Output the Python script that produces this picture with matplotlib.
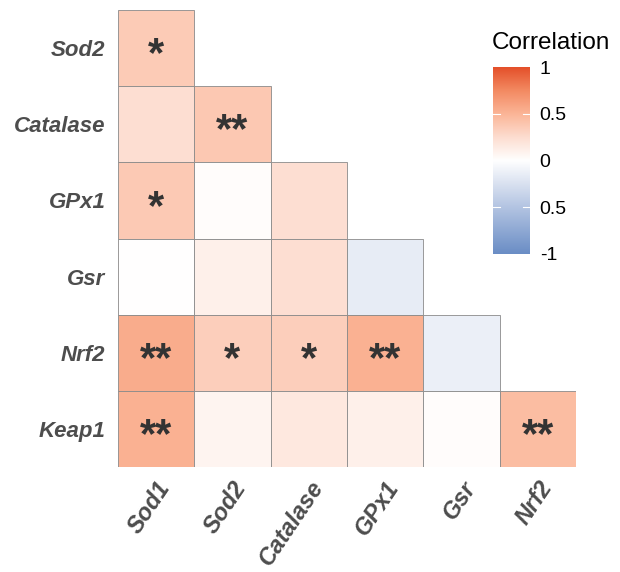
import numpy as np
import matplotlib.pyplot as plt
from matplotlib.colors import LinearSegmentedColormap

cols = ["Sod1", "Sod2", "Catalase", "GPx1", "Gsr", "Nrf2"]
rows = ["Sod2", "Catalase", "GPx1", "Gsr", "Nrf2", "Keap1"]

# lower triangle correlations, row by row (row i has i+1 values)
corr = [
    [0.36],
    [0.24, 0.38],
    [0.37, 0.02, 0.24],
    [0.00, 0.11, 0.24, -0.16],
    [0.55, 0.34, 0.34, 0.52, -0.13],
    [0.52, 0.08, 0.17, 0.11, 0.02, 0.45],
]
stars = [
    ["*"],
    ["", "**"],
    ["*", "", ""],
    ["", "", "", ""],
    ["**", "*", "*", "**", ""],
    ["**", "", "", "", "", "**"],
]

cbar_ticks = [1, 0.5, 0, -0.5, -1]
cbar_labels = ["1", "0.5", "0", "0.5", "-1"]

plt.rcParams['font.family'] = ['Liberation Sans', 'DejaVu Sans']
cmap = LinearSegmentedColormap.from_list("corr", [
    (0.0, "#6A8DC5"), (0.25, "#B3C4E2"), (0.375, "#D9E1F0"), (0.5, "#FFFFFF"),
    (0.625, "#FDDDD0"), (0.75, "#FBB597"), (0.875, "#F38A62"), (1.0, "#E4502A")])

fig = plt.figure(figsize=(6.2, 5.72), dpi=100)
W, H = 620, 572
ax = fig.add_axes([118 / W, 1 - 467 / H, (576 - 118) / W, (467 - 10) / H])

n = len(cols)
for i, r in enumerate(rows):
    for j, v in enumerate(corr[i]):
        y = n - 1 - i
        ax.add_patch(plt.Rectangle((j, y), 1, 1, facecolor=cmap((v + 1) / 2),
                                   edgecolor="#8a8a8a", linewidth=0.6))
        if stars[i][j]:
            ax.text(j + 0.5, y + 0.26, stars[i][j], ha="center", va="baseline",
                    fontsize=30, fontweight="bold", color="#333333")

ax.set_xlim(0, n)
ax.set_ylim(0, n)
ax.set_xticks(np.arange(n) + 0.5)
ax.set_xticklabels(cols, rotation=56, ha="right", rotation_mode="anchor",
                   fontsize=17, fontweight="bold", fontstyle="italic", color="#4D4D4D")
ax.set_yticks(np.arange(n) + 0.5)
ax.set_yticklabels(rows[::-1], fontsize=16, fontweight="bold", fontstyle="italic", color="#4D4D4D")
ax.tick_params(axis="y", length=0, pad=9)
ax.tick_params(axis="x", length=0, pad=7)
for s in ax.spines.values():
    s.set_visible(False)

# colour bar
cax = fig.add_axes([493 / W, 1 - 254 / H, 37 / W, (254 - 67) / H])
grad = np.linspace(-1, 1, 256).reshape(-1, 1)
cax.imshow(grad, cmap=cmap, aspect="auto", origin="lower", extent=[0, 1, -1, 1], vmin=-1, vmax=1)
for t in [0.5, -0.5]:
    cax.plot([0, 0.2], [t, t], color="white", lw=0.8)
    cax.plot([0.8, 1], [t, t], color="white", lw=0.8)
cax.set_xlim(0, 1)
cax.set_ylim(-1, 1)
cax.set_xticks([])
cax.yaxis.tick_right()
cax.set_yticks(cbar_ticks)
cax.set_yticklabels(cbar_labels, fontsize=14)
cax.tick_params(length=0, pad=7)
for s in cax.spines.values():
    s.set_visible(False)
fig.text(492 / W, 1 - 43 / H, "Correlation", fontsize=17.5, va="center", ha="left")

fig.savefig("out.png", dpi=100)
